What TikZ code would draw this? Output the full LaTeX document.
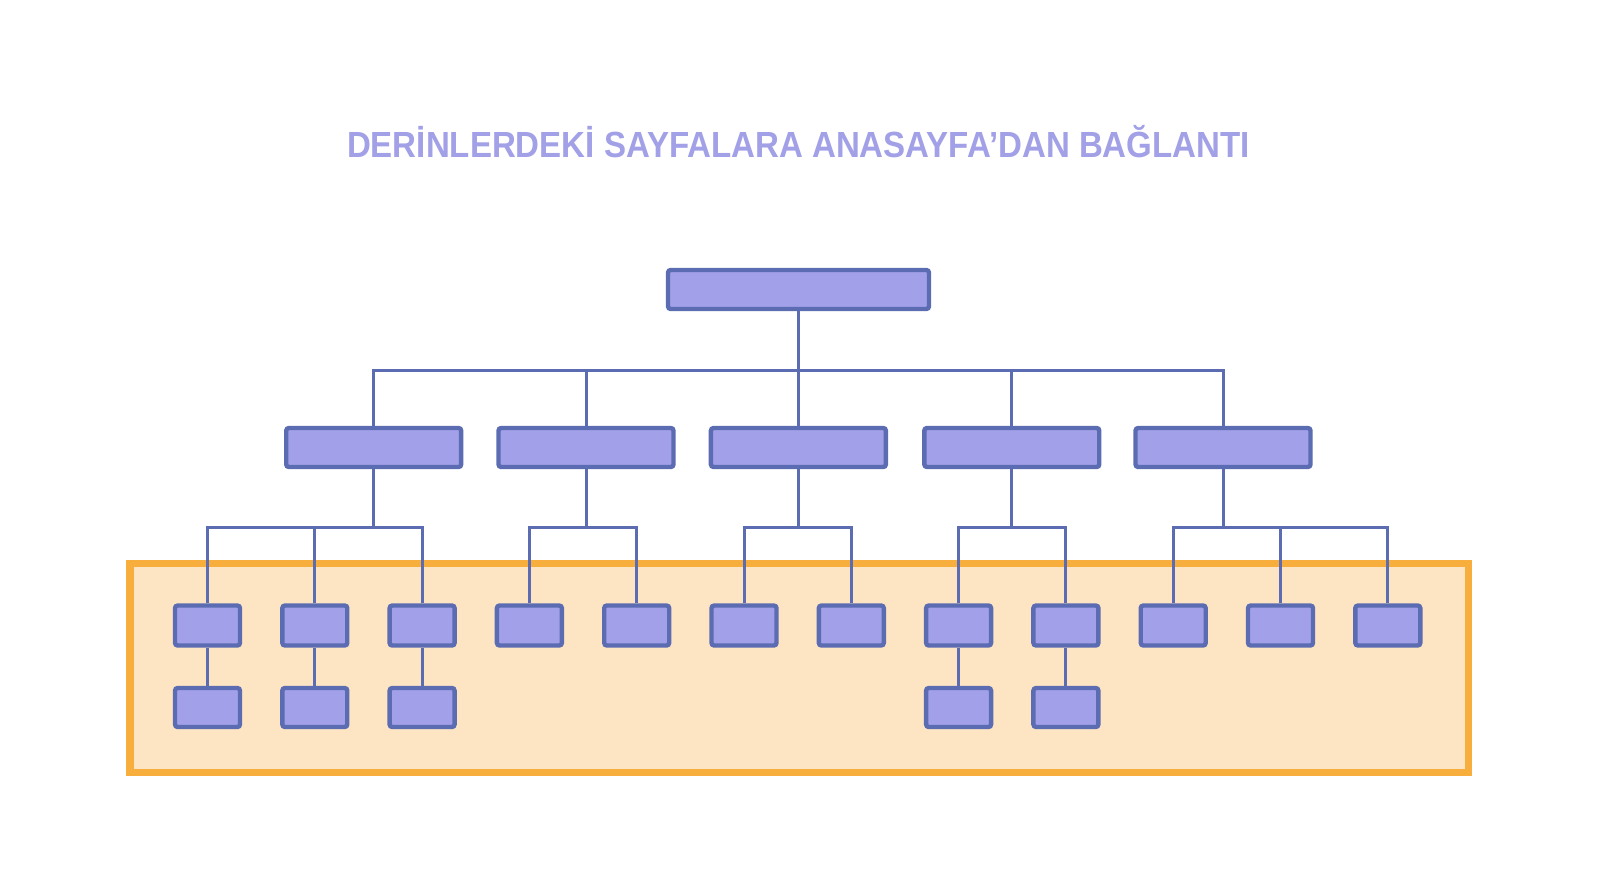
\documentclass[tikz,border=0pt]{standalone}
\usepackage{fontspec}
\setmainfont{Liberation Sans}
\usetikzlibrary{backgrounds}
\definecolor{boxfill}{RGB}{161,160,232}
\definecolor{boxline}{RGB}{92,108,178}
\definecolor{orline}{RGB}{248,174,60}
\definecolor{orfill}{RGB}{253,229,196}
\definecolor{titlecol}{RGB}{162,160,230}
\tikzset{
  pagebox/.style={draw=boxline, fill=boxfill, line width=2.5pt, rounded corners=1.5pt, inner sep=0pt},
  topbox/.style={pagebox, minimum width=5.22cm, minimum height=0.78cm},
  midbox/.style={pagebox, minimum width=3.5cm, minimum height=0.78cm},
  leafbox/.style={pagebox, minimum width=1.3cm, minimum height=0.8cm},
  deepbox/.style={pagebox, minimum width=1.3cm, minimum height=0.78cm},
  conn/.style={draw=boxline, line width=1.7pt},
  zone/.style={draw=orline, fill=orfill, line width=4pt}
}
\begin{document}
\begin{tikzpicture}[x=0.02cm,y=-0.02cm]
\useasboundingbox (0,0) rectangle (1601,880);
\node[text=titlecol, font=\bfseries\fontsize{20.7}{24}\selectfont, inner sep=0pt, anchor=base] (title) at (798.5,157) {\resizebox{18.06cm}{\height}{DERİNLERDEKİ SAYFALARA ANASAYFA’DAN BAĞLANTI}};
% top
\node[topbox] (top) at (798.5,289.5) {};
% level 2
\node[midbox] (a) at (373.7,447.5) {};
\node[midbox] (b) at (586,447.5) {};
\node[midbox] (c) at (798.4,447.5) {};
\node[midbox] (d) at (1011.8,447.5) {};
\node[midbox] (e) at (1223,447.5) {};
% level 3
\foreach \i/\x in {1/207.5,2/314.8,3/422.1,4/529.4,5/636.7,6/744,7/851.3,8/958.6,9/1065.9,10/1173.2,11/1280.5,12/1387.8}
  \node[leafbox] (l\i) at (\x,625.5) {};
% level 4
\foreach \i in {1,2,3,8,9}
  \node[deepbox] (m\i) at (l\i |- 0,707.5) {};
% junctions
\coordinate (j0) at (798.5,370);
\foreach \n in {a,b,c,d,e} \coordinate (j\n) at (\n.south |- 0,527);
\begin{scope}[on background layer]
  \draw[zone] (130,563) rectangle (1468,772);
  \draw[conn] (top.south) -- (j0);
  \foreach \n in {a,b,c,d,e} \draw[conn] (\n.north) |- (j0);
  \foreach \n in {a,b,c,d,e} \draw[conn] (\n.south) -- (j\n);
  \foreach \i in {1,2,3} \draw[conn] (l\i.north) |- (ja);
  \foreach \i in {4,5} \draw[conn] (l\i.north) |- (jb);
  \foreach \i in {6,7} \draw[conn] (l\i.north) |- (jc);
  \foreach \i in {8,9} \draw[conn] (l\i.north) |- (jd);
  \foreach \i in {10,11,12} \draw[conn] (l\i.north) |- (je);
  \foreach \i in {1,2,3,8,9} \draw[conn] (l\i.south) -- (m\i.north);
\end{scope}
\end{tikzpicture}
\end{document}
